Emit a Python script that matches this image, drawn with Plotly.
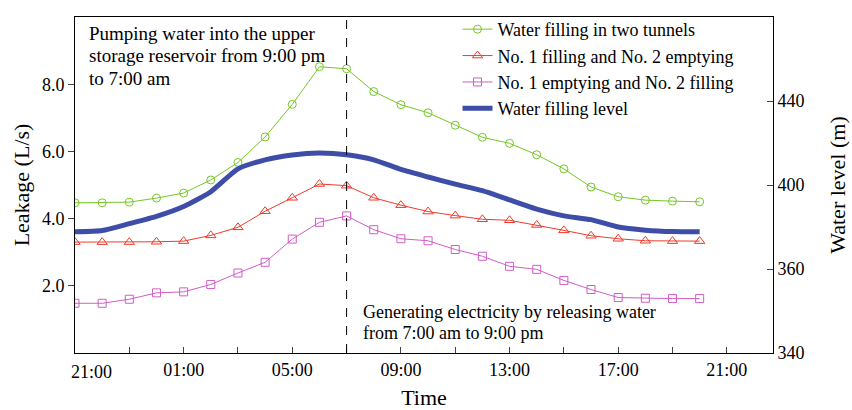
import plotly.graph_objects as go

hours = list(range(24))  # 0 = 21:00
tick_vals = list(range(0, 26, 2))
tick_text = ["", "", "01:00", "", "05:00", "", "09:00", "", "13:00", "", "17:00", "", "21:00"]

two_tunnels = [4.47, 4.47, 4.49, 4.61, 4.76, 5.15, 5.67, 6.43, 7.40, 8.52, 8.46, 7.78,
               7.39, 7.15, 6.78, 6.42, 6.24, 5.90, 5.48, 4.94, 4.65, 4.55, 4.52, 4.50]
no1_fill_no2_empty = [3.30, 3.30, 3.30, 3.31, 3.33, 3.50, 3.74, 4.22, 4.62, 5.03, 4.98, 4.62,
                      4.40, 4.21, 4.09, 3.98, 3.95, 3.81, 3.65, 3.49, 3.40, 3.34, 3.33, 3.33]
no1_empty_no2_fill = [1.48, 1.48, 1.60, 1.79, 1.82, 2.04, 2.38, 2.70, 3.39, 3.89, 4.08, 3.67,
                      3.40, 3.34, 3.08, 2.88, 2.58, 2.49, 2.16, 1.89, 1.65, 1.63, 1.62, 1.62]
water_level = [377.7, 378.3, 381.6, 385.1, 389.8, 396.8, 407.7, 412.0, 414.3, 415.2, 414.4, 412.0,
               407.4, 403.8, 400.4, 397.3, 392.9, 388.5, 385.3, 383.5, 380.0, 378.5, 377.8, 377.7]

left_ticks = [2, 4, 6, 8]
right_tick_vals = [320, 360, 400, 440]
right_tick_text = ["340", "360", "400", "440"]
switch_hour = 10  # 07:00

pump_lines = ["Pumping water into the upper", "storage reservoir from 9:00 pm", "to 7:00 am"]
gen_lines = ["Generating electricity by releasing water", "from 7:00 am to 9:00 pm"]

FONT = "Liberation Serif, Times New Roman, serif"

fig = go.Figure()
fig.add_trace(go.Scatter(x=hours, y=two_tunnels, name="Water filling in two tunnels",
                         mode="lines+markers", line=dict(color="#74C824", width=1),
                         marker=dict(symbol="circle-open", size=8, color="#74C824", line=dict(width=1))))
fig.add_trace(go.Scatter(x=hours, y=no1_fill_no2_empty, name="No. 1 filling and No. 2 emptying",
                         mode="lines+markers", line=dict(color="#EE3B2C", width=1),
                         marker=dict(symbol="triangle-up-open", size=9, color="#EE3B2C", line=dict(width=1))))
fig.add_trace(go.Scatter(x=hours, y=no1_empty_no2_fill, name="No. 1 emptying and No. 2 filling",
                         mode="lines+markers", line=dict(color="#D25CC8", width=1),
                         marker=dict(symbol="square-open", size=8, color="#D25CC8", line=dict(width=1))))
fig.add_trace(go.Scatter(x=hours, y=water_level, name="Water filling level", yaxis="y2",
                         mode="lines", line=dict(color="#3D4DA8", width=5, shape="spline", smoothing=0.6)))

fig.add_shape(type="line", x0=switch_hour, x1=switch_hour, y0=0, y1=1, xref="x", yref="paper",
              line=dict(color="black", width=1, dash="dash"))

fig.add_annotation(x=0, y=0, xref="x", yref="paper", text="21:00", showarrow=False,
                   xanchor="left", yanchor="middle", xshift=-6, yshift=-19,
                   font=dict(family=FONT, size=18, color="black"))
for i, line in enumerate(pump_lines):
    fig.add_annotation(x=0, y=1, xref="x", yref="paper", showarrow=False,
                       xanchor="left", yanchor="middle", xshift=12, yshift=-16 - 22.5 * i,
                       text=line, font=dict(family=FONT, size=19, color="black"))
for i, line in enumerate(gen_lines):
    fig.add_annotation(x=switch_hour, y=0, xref="x", yref="paper", showarrow=False,
                       xanchor="left", yanchor="middle", xshift=14, yshift=41.5 - 21.8 * i,
                       text=line, font=dict(family=FONT, size=18, color="black"))

fig.update_layout(
    width=852, height=410,
    margin=dict(l=75, r=79, t=11, b=57),
    paper_bgcolor="white", plot_bgcolor="white",
    font=dict(family=FONT, size=18, color="black"),
    showlegend=True,
    legend=dict(x=0.548, y=1.018, xanchor="left", yanchor="top", bgcolor="rgba(0,0,0,0)",
                font=dict(family=FONT, size=18), itemwidth=30, tracegroupgap=0),
    xaxis=dict(range=[0, 25.7], tickvals=tick_vals, ticktext=tick_text, ticks="inside", ticklen=6,
               showline=True, linecolor="black", linewidth=1, mirror=True, showgrid=False, zeroline=False,
               automargin=False, title=dict(text="Time", standoff=22)),
    yaxis=dict(range=[0, 10], tickvals=left_ticks, tickformat=".1f", ticks="outside", ticklen=6,
               showline=True, linecolor="black", linewidth=1, mirror=True, showgrid=False, zeroline=False,
               automargin=False, title=dict(text="Leakage (L/s)", standoff=6)),
    yaxis2=dict(range=[320, 480], overlaying="y", side="right", tickvals=right_tick_vals,
                ticktext=right_tick_text, ticks="inside", ticklen=6, showline=True, linecolor="black",
                linewidth=1, showgrid=False, zeroline=False,
                automargin=False, title=dict(text="Water level (m)", standoff=26)),
)

fig.write_html("out.html")
